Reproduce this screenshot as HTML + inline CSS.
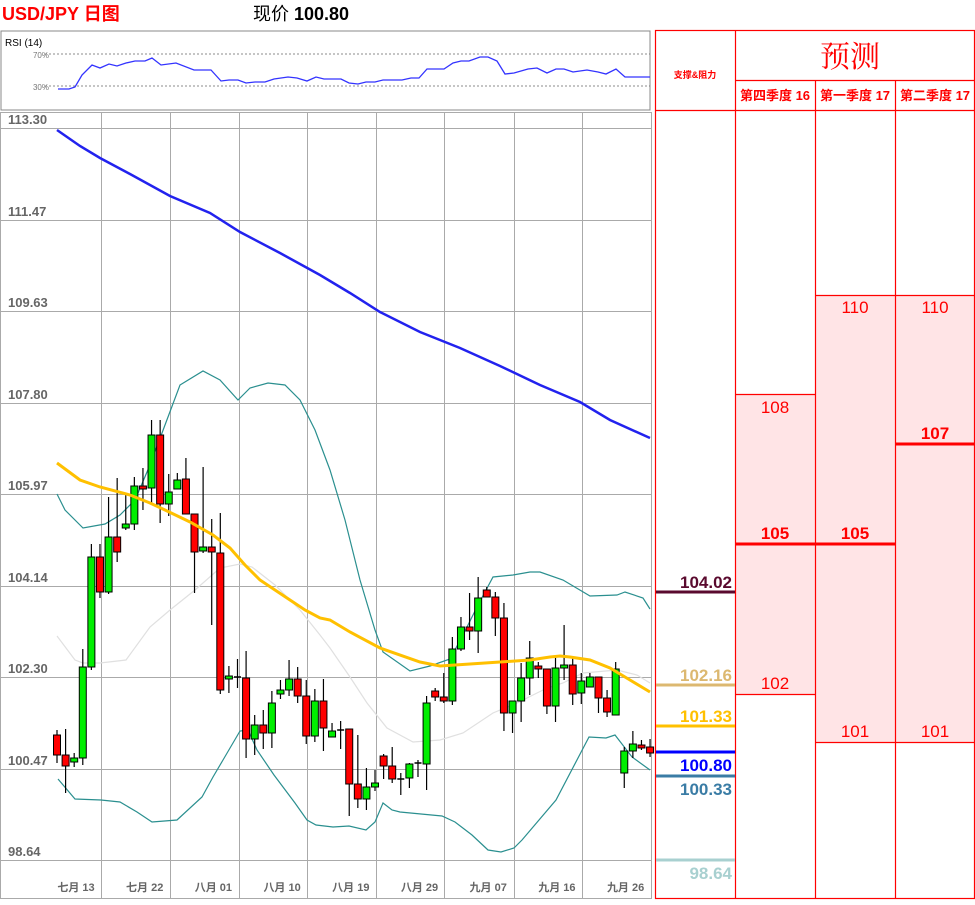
<!DOCTYPE html>
<html><head><meta charset="utf-8"><style>
html,body{margin:0;padding:0;background:#fff;}
svg text{font-family:"Liberation Sans","Noto Sans CJK SC",sans-serif;}
</style></head><body>
<svg id="s" width="975" height="900" viewBox="0 0 975 900" xmlns="http://www.w3.org/2000/svg">
<rect width="975" height="900" fill="#fff"/>
<text x="2" y="20" font-size="18" font-weight="bold" fill="#ff0000">USD/JPY 日图</text>
<text x="253" y="20" font-size="18" fill="#000">现价 <tspan font-weight="bold">100.80</tspan></text>
<!-- RSI -->
<rect x="1" y="31" width="649" height="79" fill="#fff" stroke="#888" stroke-width="1"/>
<text x="5" y="46" font-size="10" fill="#000">RSI (14)</text>
<line x1="45" y1="54" x2="650" y2="54" stroke="#666" stroke-dasharray="2,2" stroke-width="0.8"/>
<line x1="45" y1="86" x2="650" y2="86" stroke="#666" stroke-dasharray="2,2" stroke-width="0.8"/>
<text x="49" y="58" font-size="8" fill="#777" text-anchor="end">70%</text>
<text x="49" y="90" font-size="8" fill="#777" text-anchor="end">30%</text>
<polyline fill="none" stroke="#3333ff" stroke-width="1.3" points="58,89 69,89 75,87 82,75 92,65 100,68 109,64 117,66 126,63 135,61 145,61 152,58 161,65 176,63 194,70 211,70 221,81 229,80 238,80 246,83 255,82 265,82 274,79 288,77 297,78 307,81 316,77 324,79 341,79 349,83 358,84 366,82 375,82 383,80 392,80 402,80 411,78 419,78 427,69 444,69 453,63 461,61 469,61 480,57 488,57 497,61 505,74 514,73 528,69 537,68 547,73 556,69 564,69 573,72 587,70 598,72 606,74 616,69 625,77 632,77 650,77"/>
<!-- main chart -->
<rect x="0.5" y="112.5" width="651" height="786" fill="#fff" stroke="#aaa"/>
<g id="grid" stroke="#aaa" stroke-width="1"></g>
<g id="lbl" font-size="13" font-weight="bold" fill="#666"></g>
<polyline fill="none" stroke="#e0e0e0" stroke-width="1.2" points="57,636 75,660 83,663 100,663 126,660 150,627 170,610 195,590 220,568 240,564 252,567 275,585 300,610 320,635 330,648 350,677 367,703 387,728 413,742 440,740 463,733 493,713 517,703 547,688 563,683 583,673 617,670 637,675 650,683"/>
<polyline fill="none" stroke="#2a8f8f" stroke-width="1.2" points="57,494 65,510 83,528 105,524 120,515 135,500 150,465 165,425 180,385 203,371 220,380 238,400 250,388 268,383 285,385 300,400 315,430 330,470 345,520 360,580 375,630 383,652 410,671 430,666 450,659 463,635 477,607 493,577 513,575 530,572 540,572 563,580 590,596 617,595 625,592 643,598 650,609"/>
<polyline fill="none" stroke="#2a8f8f" stroke-width="1.2" points="58,779 75,799 101,800 120,802 137,812 152,822 177,820 202,797 213,777 223,760 240,731 248,730 257,750 274,775 295,803 307,820 316,825 333,827 349,826 366,830 375,822 383,803 392,810 400,812 421,814 442,816 455,822 472,835 488,850 501,852 514,848 522,840 556,800 589,737 606,738 615,735 632,757 650,770"/>
<polyline fill="none" stroke="#2222ee" stroke-width="2.5" points="57,130 80,146 100,158 130,174 170,196 210,213 240,232 280,253 320,275 350,293 380,312 420,332 460,348 500,366 540,385 580,402 610,420 650,438"/>
<g id="c"></g>
<polyline fill="none" stroke="#ffc000" stroke-width="3" points="57,463 80,480 100,487 130,495 150,503 165,510 190,522 213,535 230,548 245,565 260,580 275,590 290,600 305,610 320,618 330,620 350,632 380,648 420,662 440,666 470,664 500,662 530,660 550,657 560,656 570,657 590,660 610,668 630,680 650,692"/>
<g id="xl" font-size="11" font-weight="bold" fill="#666" text-anchor="middle"></g>
<!-- right panel -->
<rect x="735" y="394" width="80" height="300" fill="#ffe4e6"/>
<rect x="815" y="295" width="160" height="447" fill="#ffe4e6"/>
<g stroke="#ff0000" stroke-width="1.2" fill="none">
<rect x="655.5" y="30.5" width="319" height="868"/>
<line x1="735.5" y1="30" x2="735.5" y2="898"/>
<line x1="815.5" y1="80" x2="815.5" y2="898"/>
<line x1="895.5" y1="80" x2="895.5" y2="898"/>
<line x1="735" y1="80.5" x2="975" y2="80.5"/>
<line x1="655" y1="110.5" x2="975" y2="110.5"/>
<line x1="735" y1="394.5" x2="815" y2="394.5"/>
<line x1="735" y1="694.5" x2="815" y2="694.5"/>
<line x1="815" y1="295.5" x2="975" y2="295.5"/>
<line x1="815" y1="742.5" x2="975" y2="742.5"/>
</g>
<line x1="735" y1="544" x2="895" y2="544" stroke="#ff0000" stroke-width="3"/>
<line x1="895" y1="444" x2="975" y2="444" stroke="#ff0000" stroke-width="3"/>
<text x="695" y="78" font-size="9" font-weight="bold" fill="#ff0000" text-anchor="middle">支撑&amp;阻力</text>
<text x="850" y="67" font-size="30" fill="#ff0000" text-anchor="middle" font-family="Noto Serif CJK SC,serif" style="font-family:'Noto Serif CJK SC',serif">预测</text>
<g font-size="13" font-weight="bold" fill="#ff0000" text-anchor="middle">
<text x="775" y="100">第四季度 16</text><text x="855" y="100">第一季度 17</text><text x="935" y="100">第二季度 17</text>
</g>
<g font-size="17" fill="#ff0000" text-anchor="middle">
<text x="775" y="413">108</text><text x="775" y="689">102</text>
<text x="855" y="313">110</text><text x="855" y="737">101</text>
<text x="935" y="313">110</text><text x="935" y="737">101</text>
<text x="775" y="539" font-weight="bold">105</text><text x="855" y="539" font-weight="bold">105</text>
<text x="935" y="439" font-weight="bold">107</text>
</g>
<g stroke-width="3">
<line x1="656" y1="592" x2="735" y2="592" stroke="#5a0a2e"/>
<line x1="656" y1="685" x2="735" y2="685" stroke="#dcb870"/>
<line x1="656" y1="726" x2="735" y2="726" stroke="#ffc000"/>
<line x1="656" y1="752" x2="735" y2="752" stroke="#0000ff"/>
<line x1="656" y1="776" x2="735" y2="776" stroke="#3a7ca5"/>
<line x1="656" y1="860" x2="735" y2="860" stroke="#a8d0d0"/>
</g>
<g font-size="17" font-weight="bold" text-anchor="end">
<text x="732" y="588" fill="#5a0a2e">104.02</text>
<text x="732" y="681" fill="#dcb870">102.16</text>
<text x="732" y="722" fill="#ffc000">101.33</text>
<text x="732" y="771" fill="#0000ff">100.80</text>
<text x="732" y="795" fill="#3a7ca5">100.33</text>
<text x="732" y="879" fill="#a8d0d0">98.64</text>
</g>
</svg>
<script>
var NS="http://www.w3.org/2000/svg";
function el(t,a,p){var e=document.createElementNS(NS,t);for(var k in a)e.setAttribute(k,a[k]);p.appendChild(e);return e;}
var g=document.getElementById('grid'),l=document.getElementById('lbl');
var lv=["113.30","111.47","109.63","107.80","105.97","104.14","102.30","100.47","98.64"];
var ly=[128,220,311,403,494,586,677,769,860];
for(var i=0;i<9;i++){el('line',{x1:0,y1:ly[i]+.5,x2:652,y2:ly[i]+.5},g);var t=el('text',{x:8,y:ly[i]-4},l);t.textContent=lv[i];}
var vx=[101,170,239,307,376,444,514,582];
for(var i=0;i<vx.length;i++)el('line',{x1:vx[i]+.5,y1:112,x2:vx[i]+.5,y2:898},g);
var xl=document.getElementById('xl');var xs=["七月 13","七月 22","八月 01","八月 10","八月 19","八月 29","九月 07","九月 16","九月 26"];
for(var i=0;i<9;i++){var t=el('text',{x:76+i*68.7,y:891},xl);t.textContent=xs[i];}
var d=[[735,755,730,763,'r'],[755,766,729,793,'r'],[758,762,753,767,'g'],[667,758,649,765,'g'],[557,667,544,670,'g'],[557,592,544,598,'r'],[537,592,497,594,'g'],[537,552,478,562,'r'],[524,528,493,530,'g'],[486,524,477,530,'g'],[486,488,468,510,'r'],[435,488,420,503,'g'],[435,504,420,523,'r'],[492,504,474,516,'g'],[480,489,473,489,'g'],[479,514,458,514,'r'],[514,552,514,593,'r'],[547,551,467,553,'g'],[547,552,519,625,'r'],[553,690,513,694,'r'],[676,679,666,693,'g'],[677,677,659,688,'d'],[678,739,651,758,'r'],[725,739,715,755,'g'],[725,733,710,749,'r'],[703,733,691,748,'g'],[690,694,680,699,'g'],[679,690,660,696,'g'],[679,696,667,703,'r'],[696,736,680,744,'r'],[701,736,689,742,'g'],[701,728,679,751,'r'],[731,737,723,737,'g'],[730,730,721,749,'d'],[729,784,729,816,'r'],[784,799,735,808,'r'],[787,799,768,810,'g'],[783,787,770,791,'g'],[756,766,754,779,'r'],[766,779,747,783,'r'],[779,779,773,795,'d'],[764,778,763,788,'g'],[763,763,760,777,'d'],[703,764,696,790,'g'],[691,697,688,701,'r'],[697,701,673,703,'r'],[649,701,637,705,'g'],[627,649,617,651,'g'],[627,631,593,640,'r'],[598,631,577,653,'g'],[590,597,587,597,'r'],[597,618,592,636,'r'],[618,713,603,731,'r'],[701,713,701,733,'g'],[678,701,663,722,'g'],[658,678,641,695,'g'],[666,669,662,678,'r'],[669,706,669,714,'r'],[668,706,657,722,'g'],[665,668,625,680,'g'],[665,694,656,705,'r'],[681,693,673,704,'g'],[677,687,673,687,'g'],[677,698,677,713,'r'],[698,712,690,717,'r'],[669,715,662,715,'g'],[751,773,747,788,'g'],[744,751,731,758,'g'],[745,747,740,750,'r'],[747,753,739,757,'r']];
var c=document.getElementById('c');
for(var i=0;i<d.length;i++){var x=57+i*8.595,q=d[i];
el('line',{x1:x,y1:q[2],x2:x,y2:q[3],stroke:'#000','stroke-width':1.2},c);
if(q[4]=='d'){el('line',{x1:x-3.5,y1:q[0],x2:x+3.5,y2:q[0],stroke:'#000','stroke-width':1.5},c);}
else el('rect',{x:x-3.5,y:q[0],width:7,height:Math.max(3,q[1]-q[0]),fill:q[4]=='r'?'#ff0000':'#00ee00',stroke:'#000','stroke-width':1},c);}
</script>
</body></html>
